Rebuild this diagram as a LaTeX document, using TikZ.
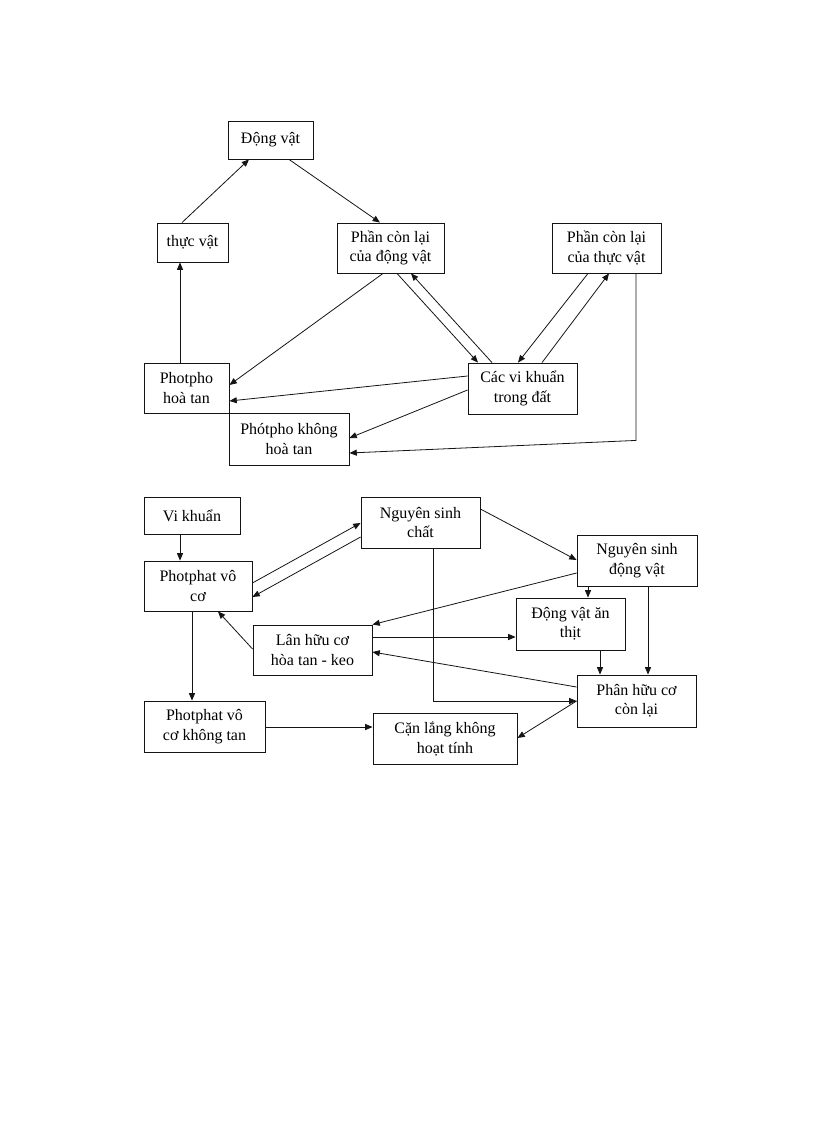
\documentclass[tikz,border=0pt]{standalone}
\usepackage{fontspec}
\setmainfont{Liberation Serif}
\usepackage{tikz}
\usetikzlibrary{arrows.meta,calc}
\definecolor{linegray}{RGB}{20,20,20}

\tikzset{
    bx/.style 2 args={draw=linegray, line width=0.65pt, align=center, inner sep=0pt,
        minimum width=#1*0.75pt, minimum height=#2*0.75pt,
        font=\fontsize{12}{14.5}\selectfont},
    arr/.style={draw=linegray, line width=0.6pt, -{Triangle[length=5.5pt,width=4.5pt]}}
}

\begin{document}
\begin{tikzpicture}[x=0.75pt,y=-0.75pt]
\useasboundingbox (0,0) rectangle (816,1123);

% top cycle
\node[bx={85}{38}]  (dv)   at (270.5,140)   {Động vật};
\node[bx={71}{39}]  (tv)   at (192.5,242.5) {thực vật};
\node[bx={107}{50}] (pcdv) at (390.5,248)   {Phần còn lại\\của động vật};
\node[bx={109}{50}] (pctv) at (606.5,248)   {Phần còn lại\\của thực vật};
\node[bx={85}{50}]  (php)  at (186.5,388)   {Photpho\\hoà tan};
\node[bx={120}{52}] (phk)  at (289,439)     {Phótpho không\\hoà tan};
\node[bx={109}{51}] (vk)   at (522.5,388.5) {Các vi khuẩn\\trong đất};

\draw[arr] ($(tv.north)+(-10.5,0)$) -- ($(dv.south)+(-21.5,0)$);
\draw[arr] ($(dv.south)+(18.5,0)$) -- ($(pcdv.north)+(-10.5,0)$);
\draw[arr] ($(php.north)+(-6.5,0)$) -- ($(tv.south)+(-12.5,0)$);
\draw[arr] ($(pcdv.south)+(-7.5,0)$) -- ($(php.east)+(0,-3)$);
\draw[arr] ($(pcdv.south)+(6.5,0)$) -- ($(vk.north)+(-44.5,0)$);
\draw[arr] ($(vk.north)+(-30.5,0)$) -- ($(pcdv.south)+(20.5,0)$);
\draw[arr] ($(pctv.south)+(-18.5,0)$) -- ($(vk.north)+(-4.5,0)$);
\draw[arr] ($(vk.north)+(19.5,0)$) -- ($(pctv.south)+(2.5,0)$);
\draw[arr] ($(vk.west)+(0,-12.5)$) -- ($(php.east)+(0,13)$);
\draw[arr] ($(vk.west)+(0,1.5)$) -- ($(phk.east)+(0,-1)$);
\coordinate (tvbend) at ($(pctv.south)+(29.5,167)$);
\draw[arr] ($(pctv.south)+(29.5,0)$) -- (tvbend) -- ($(phk.east)+(0,14)$);

% bottom cycle
\node[bx={96}{37}]  (vkb)  at (192,515.5)   {Vi khuẩn};
\node[bx={108}{50}] (pvc)  at (198,586)     {Photphat vô\\cơ};
\node[bx={119}{51}] (nsc)  at (420.5,522.5) {Nguyên sinh\\chất};
\node[bx={120}{51}] (nsdv) at (637,560.5)   {Nguyên sinh\\động vật};
\node[bx={109}{52}] (dvat) at (570.5,624)   {Động vật ăn\\thịt};
\node[bx={119}{50}] (lhc)  at (312.5,650)   {Lân hữu cơ\\hòa tan - keo};
\node[bx={119}{52}] (phc)  at (636.5,701)   {Phân hữu cơ\\còn lại};
\node[bx={121}{51}] (pvk)  at (204.5,726.5) {Photphat vô\\cơ không tan};
\node[bx={144}{51}] (cl)   at (445,739)     {Cặn lắng không\\hoạt tính};

\draw[arr] ($(vkb.south)+(-12,0)$) -- ($(pvc.north)+(-18,0)$);
\draw[arr] ($(pvc.east)+(0,-3)$) -- ($(nsc.west)+(0,0.5)$);
\draw[arr] ($(nsc.west)+(0,14.5)$) -- ($(pvc.east)+(0,11)$);
\draw[arr] ($(nsc.east)+(0,-13.5)$) -- ($(nsdv.west)+(0,-0.5)$);
\draw[arr] ($(nsdv.west)+(0,12.5)$) -- (lhc.north east);
\draw[arr] ($(nsdv.south)+(-49,0)$) -- ($(dvat.north)+(17.5,0)$);
\draw[arr] ($(nsdv.south)+(11,0)$) -- ($(phc.north)+(11.5,0)$);
\draw[arr] ($(dvat.south)+(29.5,0)$) -- ($(phc.north)+(-36.5,0)$);
\draw[arr] ($(lhc.east)+(0,-13)$) -- ($(dvat.west)+(0,13)$);
\draw[arr] ($(phc.west)+(0,-14)$) -- ($(lhc.east)+(0,2)$);
\draw[arr] ($(nsc.south)+(12.5,0)$) |- (phc.west);
\draw[arr] (phc.west) -- ($(cl.east)+(0,-1)$);
\draw[arr] ($(lhc.west)+(0,-1)$) -- ($(pvc.south)+(20,0)$);
\draw[arr] ($(pvc.south)+(-6,0)$) -- ($(pvk.north)+(-12.5,0)$);
\draw[arr] ($(pvk.east)+(0,0.5)$) -- ($(cl.west)+(0,-12)$);
\end{tikzpicture}
\end{document}
